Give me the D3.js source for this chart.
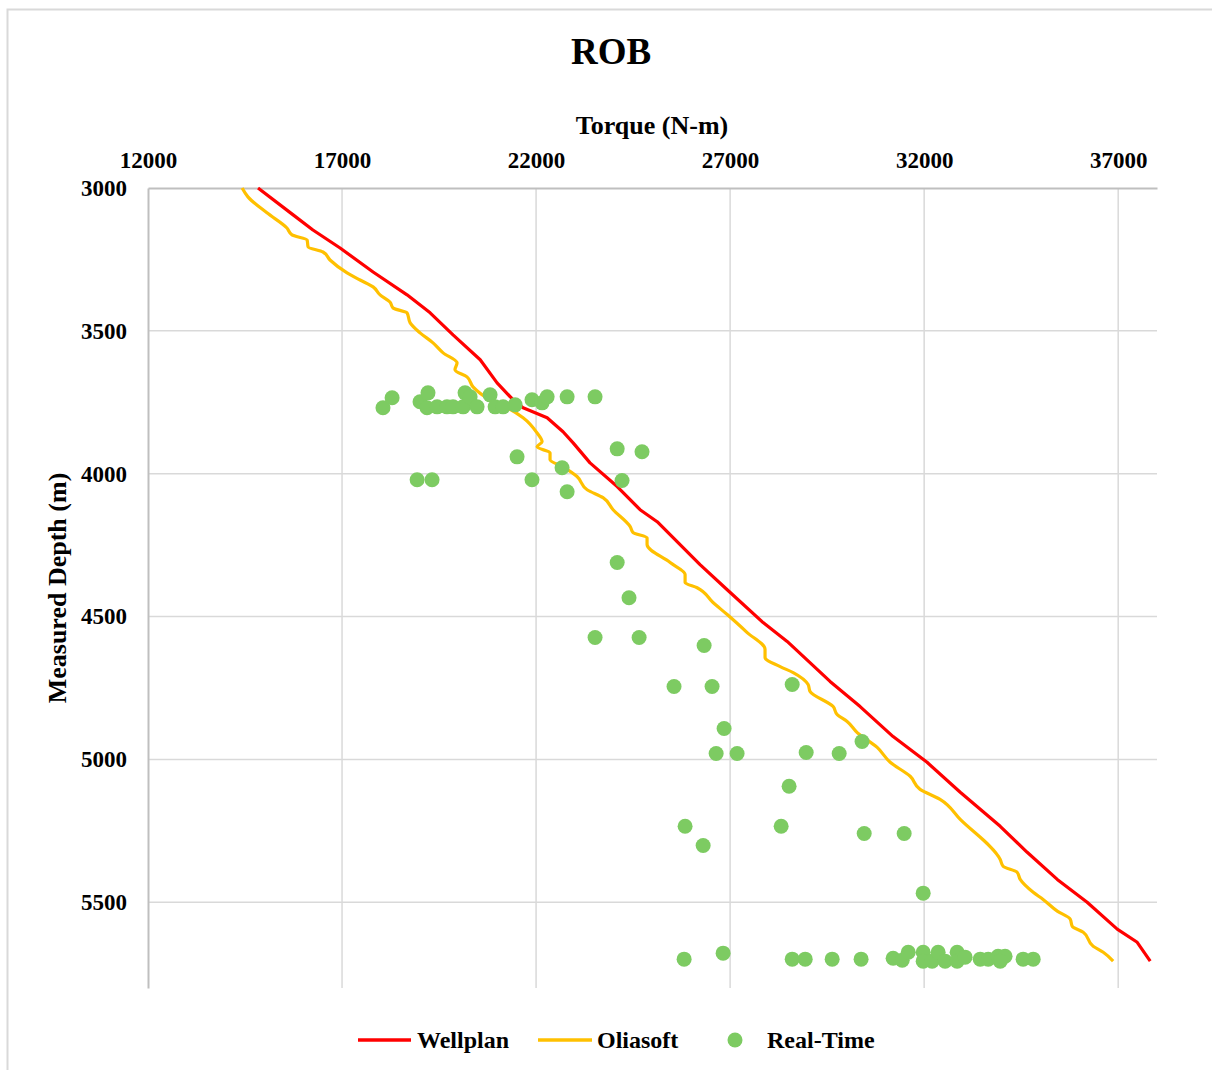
<!DOCTYPE html>
<meta charset="utf-8">
<style>
body { margin: 0; background: #fff; }
text { font-family: "Liberation Serif", "Times New Roman", serif; font-weight: bold; fill: #000; }
.grid line { stroke: #d9d9d9; stroke-width: 1.5; }
</style>
<body>
<svg width="1212" height="1070"></svg>
<script src="https://d3js.org/d3.v7.min.js"></script>
<script>

// Wellplan model: [torque N-m, depth m]
var wellplan = [
  [14835, 3000], [15740, 3094], [16250, 3147], [16950, 3210], [17800, 3294],
  [18675, 3374], [19270, 3437], [19860, 3514], [20560, 3601], [20995, 3682],
  [21405, 3741], [21665, 3769], [22285, 3804], [22695, 3853], [22955, 3892],
  [23390, 3962], [24090, 4045], [24680, 4126], [25120, 4168], [26225, 4318],
  [26925, 4406], [27850, 4521], [28470, 4587], [29575, 4727], [30350, 4815],
  [31200, 4920], [32075, 5010], [32930, 5115], [33960, 5234], [34655, 5325],
  [35430, 5420], [36200, 5500], [36975, 5594], [37490, 5640], [37825, 5706]
];

// Oliasoft model: [torque N-m, depth m]
var oliasoft = [
  [14425, 3000], [14575, 3031], [15065, 3087], [15580, 3140], [15710, 3164],
  [16100, 3182], [16125, 3206], [16510, 3224], [16690, 3252], [17130, 3297],
  [17465, 3322], [17800, 3346], [17980, 3374], [18235, 3399], [18315, 3420],
  [18675, 3437], [18755, 3472], [19010, 3507], [19345, 3542], [19605, 3577],
  [19965, 3612], [19910, 3636], [20220, 3661], [20375, 3696], [20815, 3741],
  [21255, 3769], [21665, 3804], [22025, 3857], [22155, 3888], [22025, 3906],
  [22360, 3927], [22360, 3951], [22695, 3976], [23055, 4010], [23315, 4056],
  [23725, 4084], [23985, 4126], [24425, 4185], [24500, 4206], [24860, 4224],
  [24860, 4248], [25455, 4311], [25840, 4353], [25840, 4381], [26150, 4399],
  [26560, 4451], [26925, 4493], [27440, 4556], [27900, 4615], [27900, 4643],
  [28290, 4675], [28625, 4696], [29010, 4738], [29060, 4762], [29655, 4815],
  [29760, 4843], [30015, 4867], [30275, 4906], [30790, 4958], [31125, 5010],
  [31640, 5059], [31895, 5105], [32410, 5140], [32930, 5210], [33960, 5350],
  [34035, 5374], [34395, 5395], [34475, 5420], [34810, 5465], [35065, 5490],
  [35430, 5531], [35765, 5559], [35815, 5584], [36100, 5605], [36355, 5654],
  [36615, 5675], [36870, 5706]
];

// Real-time measurements: [torque N-m, depth m]
var realTime = [
  [18055, 3769], [18290, 3734], [19010, 3748], [19215, 3717], [19190, 3769],
  [19450, 3766], [19705, 3766], [19860, 3766], [20170, 3717], [20120, 3766],
  [20300, 3731], [20480, 3766], [20815, 3724], [20945, 3766], [21150, 3766],
  [21460, 3759], [21895, 3741], [22155, 3752], [22285, 3731], [22800, 3731],
  [23520, 3731], [24090, 3913], [24730, 3923], [21510, 3941], [22670, 3979],
  [18935, 4021], [19320, 4021], [21895, 4021], [24215, 4024], [22800, 4063],
  [24090, 4311], [24395, 4434], [23520, 4573], [24655, 4573], [26330, 4601],
  [25555, 4745], [26535, 4745], [28600, 4738], [26845, 4892], [26640, 4979],
  [27180, 4979], [28960, 4976], [29810, 4979], [30400, 4937], [28520, 5094],
  [25840, 5234], [28315, 5234], [30455, 5259], [31485, 5259], [26305, 5301],
  [31975, 5468],
  [25815, 5699], [26820, 5678], [28600, 5699], [28935, 5699], [29630, 5699],
  [30375, 5699], [31200, 5696], [31435, 5703], [31590, 5675], [31975, 5675],
  [31975, 5706], [32205, 5706], [32360, 5675], [32540, 5706], [32850, 5675],
  [32850, 5706], [33055, 5692], [33445, 5699], [33650, 5699], [33905, 5689],
  [34085, 5689], [33960, 5706], [34550, 5699], [34810, 5699]
];

var xTicks = [12000, 17000, 22000, 27000, 32000, 37000];
var yTicks = [3000, 3500, 4000, 4500, 5000, 5500];

var svg = d3.select("svg");

var pLeft = 148, pRight = 1157, pTop = 188, pBottom = 988;

var x = d3.scaleLinear()
    .domain([12000, 38000])
    .range([pLeft, pRight]);

var y = d3.scaleLinear()
    .domain([3000, 5800])
    .range([pTop, pBottom]);

// outer frame (only top and left edges show in the picture)
svg.append("path")
    .attr("d", "M7.5,1070V9.5H1212")
    .attr("fill", "none")
    .attr("stroke", "#d9d9d9")
    .attr("stroke-width", 2);

// grid
var grid = svg.append("g").attr("class", "grid");
grid.selectAll(".v")
  .data(xTicks.slice(1))
  .enter().append("line")
    .attr("x1", function(d) { return x(d); })
    .attr("x2", function(d) { return x(d); })
    .attr("y1", pTop)
    .attr("y2", pBottom);
grid.selectAll(".h")
  .data(yTicks.slice(1))
  .enter().append("line")
    .attr("x1", pLeft)
    .attr("x2", pRight)
    .attr("y1", function(d) { return y(d); })
    .attr("y2", function(d) { return y(d); });

// axes
var xAxis = svg.append("g")
    .attr("transform", "translate(0," + pTop + ")")
    .call(d3.axisTop(x).tickValues(xTicks).tickSize(0).tickPadding(20).tickFormat(d3.format("d")));
var yAxis = svg.append("g")
    .attr("transform", "translate(" + pLeft + ",0)")
    .call(d3.axisLeft(y).tickValues(yTicks).tickSize(0).tickPadding(21).tickFormat(d3.format("d")));

[xAxis, yAxis].forEach(function(a) {
  a.select(".domain").attr("stroke", "#bfbfbf").attr("stroke-width", 2);
  a.selectAll("text").style("font-size", "23px").style("font-family", null);
});

// lines
var line = d3.line()
    .x(function(d) { return x(d[0]); })
    .y(function(d) { return y(d[1]); });

svg.append("path")
    .datum(oliasoft)
    .attr("fill", "none")
    .attr("stroke", "#ffc000")
    .attr("stroke-width", 3.2)
    .attr("stroke-linejoin", "round")
    .attr("d", line.curve(d3.curveMonotoneY));

svg.append("path")
    .datum(wellplan)
    .attr("fill", "none")
    .attr("stroke", "#ff0000")
    .attr("stroke-width", 3.2)
    .attr("stroke-linejoin", "round")
    .attr("d", line.curve(d3.curveLinear));

svg.append("g")
  .selectAll("circle")
  .data(realTime)
  .enter().append("circle")
    .attr("cx", function(d) { return x(d[0]); })
    .attr("cy", function(d) { return y(d[1]); })
    .attr("r", 7.5)
    .attr("fill", "#7dcb62");

// titles
svg.append("text")
    .attr("x", 611)
    .attr("y", 64)
    .attr("text-anchor", "middle")
    .style("font-size", "37px")
    .text("ROB");

svg.append("text")
    .attr("x", 652)
    .attr("y", 134)
    .attr("text-anchor", "middle")
    .style("font-size", "26px")
    .text("Torque (N-m)");

svg.append("text")
    .attr("transform", "translate(66,588) rotate(-90)")
    .attr("text-anchor", "middle")
    .style("font-size", "26px")
    .text("Measured Depth (m)");

// legend
var legend = svg.append("g").attr("transform", "translate(0,1040)");
legend.append("line").attr("x1", 358).attr("x2", 411).attr("stroke", "#ff0000").attr("stroke-width", 3.5);
legend.append("text").attr("x", 417).attr("y", 8).style("font-size", "24px").text("Wellplan");
legend.append("line").attr("x1", 538).attr("x2", 592).attr("stroke", "#ffc000").attr("stroke-width", 3.5);
legend.append("text").attr("x", 597).attr("y", 8).style("font-size", "24px").text("Oliasoft");
legend.append("circle").attr("cx", 735).attr("cy", 0).attr("r", 7.5).attr("fill", "#7dcb62");
legend.append("text").attr("x", 767).attr("y", 8).style("font-size", "24px").text("Real-Time");

</script>
</body>
